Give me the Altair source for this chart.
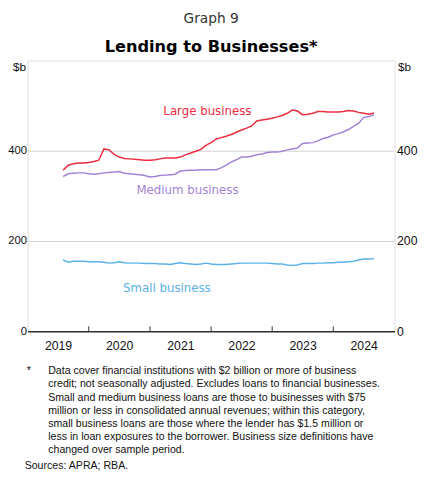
import altair as alt
import pandas as pd

# Monthly observations, Aug 2019 - Sep 2024 ($b)
months = pd.date_range("2019-08-01", "2024-09-01", freq="MS").strftime("%Y-%m-%d").tolist()

large = [357, 368, 371, 373, 373, 374, 376, 379, 404, 402,
         392, 386, 383, 382, 381, 380, 379, 379, 380, 382,
         384, 384, 384, 386, 391, 395, 399, 403, 412, 418,
         426, 429, 432, 436, 441, 446, 450, 455, 466, 468,
         470, 472, 475, 478, 483, 490, 488, 480, 481, 483,
         487, 487, 486, 486, 486, 487, 489, 488, 485, 483,
         481, 484]
medium = [343, 349, 350, 351, 351, 349, 348, 349, 351, 352,
          353, 354, 350, 349, 348, 347, 345, 342, 343, 345,
          346, 347, 348, 355, 356, 357, 357, 358, 358, 358,
          358, 362, 368, 375, 380, 386, 386, 388, 391, 393,
          396, 397, 397, 399, 402, 404, 406, 416, 417, 418,
          422, 427, 430, 435, 438, 442, 447, 454, 461, 474,
          476, 480]
small = [158, 153, 155, 155, 155, 154, 154, 154, 153, 151,
         152, 154, 152, 151, 151, 151, 150, 150, 150, 149,
         149, 148, 150, 152, 150, 149, 148, 149, 151, 149,
         148, 148, 148, 149, 150, 151, 151, 151, 151, 151,
         151, 150, 149, 149, 147, 146, 147, 150, 150, 150,
         151, 151, 152, 152, 153, 153, 154, 155, 158, 160,
         160, 161]

series_names = ["Large business", "Medium business", "Small business"]
series_colors = ["#EE2D3E", "#A283D4", "#5CB2E8"]

label_dates = ["2021-12-10", "2021-08-13", "2021-04-12"]
label_values = [487, 313, 95]

year_ticks = ["2020-01-01", "2021-01-01", "2022-01-01", "2023-01-01", "2024-01-01"]
year_labels = ["2019-01-01"] + year_ticks
y_ticks = [0, 200, 400]
x_domain = ["2019-01-01", "2025-01-01"]
y_domain = [0, 600]

footnote = ("Data cover financial institutions with $2 billion or more of business\n"
            "credit; not seasonally adjusted. Excludes loans to financial businesses.\n"
            "Small and medium business loans are those to businesses with $75\n"
            "million or less in consolidated annual revenues; within this category,\n"
            "small business loans are those where the lender has $1.5 million or\n"
            "less in loan exposures to the borrower. Business size definitions have\n"
            "changed over sample period.")
sources = "Sources: APRA; RBA."

rows = []
for name, vals in zip(series_names, [large, medium, small]):
    for d, v in zip(months, vals):
        rows.append({"date": d, "value": v, "series": name})
df = pd.DataFrame(rows)

labels_df = pd.DataFrame({"date": label_dates, "value": label_values, "series": series_names})
ticks_df = pd.DataFrame({"date": year_ticks})
one = pd.DataFrame({"a": [0]})

W, H = 374, 276
FONT = "Liberation Sans"
TFONT = "DejaVu Sans"

xscale = alt.Scale(domain=x_domain)
yscale = alt.Scale(domain=y_domain)
cscale = alt.Scale(domain=series_names, range=series_colors)

xaxis = alt.Axis(
    title=None, values=year_labels, format="%Y", ticks=False, tickSize=0,
    labelOffset=31, labelPadding=9, labelFontSize=12.5, labelFont=FONT, labelColor="#111",
    labelFlush=False, labelOverlap=False,
    grid=False, domainColor="#333", domainWidth=1.5,
)

yaxis_left = alt.Axis(
    title="$b", titleAngle=0, titleAlign="right", titleBaseline="middle", titleX=-2, titleY=6,
    titleFont=FONT, titleFontSize=12, titleFontWeight="normal", titleColor="#111",
    values=y_ticks, ticks=False, labelPadding=1, labelFontSize=11.5, labelFont=FONT,
    labelColor="#111", grid=True, gridColor="#d4d4d4", domain=False,
)
yaxis_right = alt.Axis(
    orient="right",
    title="$b", titleAngle=0, titleAlign="left", titleBaseline="middle", titleX=3, titleY=6,
    titleFont=FONT, titleFontSize=12, titleFontWeight="normal", titleColor="#111",
    values=y_ticks, ticks=False, labelPadding=2, labelFontSize=12.5, labelFont=FONT,
    labelColor="#111", grid=False, domain=False,
)

lines = alt.Chart(df).mark_line(strokeWidth=1.5).encode(
    x=alt.X("date:T", scale=xscale, axis=xaxis),
    y=alt.Y("value:Q", scale=yscale, axis=yaxis_left),
    color=alt.Color("series:N", scale=cscale, legend=None),
)

right_axis = alt.Chart(df).mark_line(opacity=0).encode(
    x=alt.X("date:T", scale=xscale, axis=None),
    y=alt.Y("value:Q", scale=yscale, axis=yaxis_right),
)

texts = alt.Chart(labels_df).mark_text(font=TFONT, fontSize=12, align="center", baseline="middle").encode(
    x=alt.X("date:T", scale=xscale, axis=None),
    y=alt.Y("value:Q", scale=yscale, axis=None),
    text="series:N",
    color=alt.Color("series:N", scale=cscale, legend=None),
)

tick_marks = alt.Chart(ticks_df).mark_rule(color="#333", strokeWidth=1).encode(
    x=alt.X("date:T", scale=xscale, axis=None),
    y=alt.value(H),
    y2=alt.value(H - 5),
)

title1 = alt.Chart(one).mark_text(font=TFONT, fontSize=14, color="#333", align="center", baseline="middle").encode(
    x=alt.value(W / 2), y=alt.value(-42), text=alt.value("Graph 9"))
title2 = alt.Chart(one).mark_text(font=TFONT, fontSize=16.5, fontWeight="bold", color="#000",
                                  align="center", baseline="middle").encode(
    x=alt.value(W / 2), y=alt.value(-14), text=alt.value("Lending to Businesses*"))

star = alt.Chart(one).mark_text(font=FONT, fontSize=10.8, color="#111", align="left", baseline="top").encode(
    x=alt.value(-1), y=alt.value(311), text=alt.value("*"))
foot = alt.Chart(one).mark_text(font=FONT, fontSize=10.8, color="#111", align="left", baseline="top",
                                lineBreak="\n", lineHeight=13.3).encode(
    x=alt.value(21), y=alt.value(311), text=alt.value(footnote))
src = alt.Chart(one).mark_text(font=FONT, fontSize=10.8, color="#111", align="left", baseline="middle").encode(
    x=alt.value(-3), y=alt.value(413), text=alt.value(sources))

chart = alt.layer(
    lines, right_axis, texts, tick_marks, title1, title2, star, foot, src
).resolve_axis(y="independent", x="independent").properties(
    width=W, height=H,
    autosize=alt.AutoSizeParams(type="none"),
    padding={"left": 20, "top": 49, "right": 29, "bottom": 142},
).configure_view(
    stroke="#8c8c8c", strokeWidth=1
).configure(background="white")

chart.save("out.html", embed_options={"renderer": "svg", "actions": False})
